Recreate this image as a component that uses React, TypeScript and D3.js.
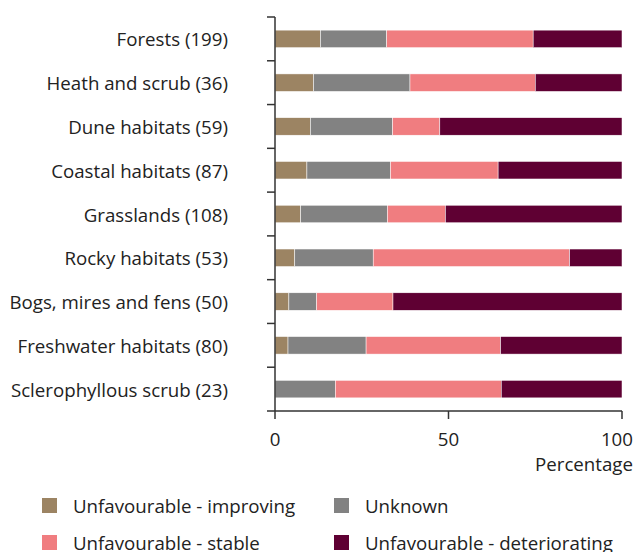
import React from "react";
import * as d3 from "d3";

const categories = [
  "Forests (199)",
  "Heath and scrub (36)",
  "Dune habitats (59)",
  "Coastal habitats (87)",
  "Grasslands (108)",
  "Rocky habitats (53)",
  "Bogs, mires and fens (50)",
  "Freshwater habitats (80)",
  "Sclerophyllous scrub (23)",
];

const seriesNames = [
  "Unfavourable - improving",
  "Unknown",
  "Unfavourable - stable",
  "Unfavourable - deteriorating",
];

// Percentages per category
const improving = [13.1, 11.1, 10.2, 9.2, 7.4, 5.7, 4.0, 3.75, 0];
const unknown = [19.1, 27.8, 23.7, 24.1, 25.0, 22.6, 8.0, 22.5, 17.4];
const stable = [42.2, 36.1, 13.6, 31.0, 16.7, 56.6, 22.0, 38.75, 47.8];
const deteriorating = [25.6, 25.0, 52.5, 35.7, 50.9, 15.1, 66.0, 35.0, 34.8];

const colors = ["#9c8463", "#828282", "#f07d80", "#5f0033"];

const xTicks = [0, 50, 100];

const W = 636;
const H = 552;
const FONT = "'Open Sans', sans-serif";
const FS = 18.7;

export default function App() {
  const x = d3.scaleLinear().domain([0, 100]).range([275, 622]);
  const y = d3.scaleBand().domain(categories).range([17, 411]).paddingInner(0.6).paddingOuter(0.3);
  const step = y.step();

  const rows = categories.map((c, i) => ({
    cat: c,
    vals: [improving[i], unknown[i], stable[i], deteriorating[i]],
  }));
  const stackData = rows.map((r) => {
    const o: any = { cat: r.cat };
    seriesNames.forEach((s, j) => (o[s] = r.vals[j]));
    return o;
  });
  const stacked = d3.stack().keys(seriesNames)(stackData as any);

  const bandTicks = d3.range(categories.length + 1).map((i) => 17 + i * step);

  return (
    <svg width={W} height={H} style={{ position: "absolute", left: 0, top: 0 }}>
      <rect width={W} height={H} fill="#fff" />
      {stacked.map((layer, j) => (
        <g key={j} fill={colors[j]}>
          {layer.map((d, i) => {
            const w = x(d[1]) - x(d[0]);
            if (w <= 0) return null;
            return (
              <rect
                key={i}
                x={x(d[0])}
                y={y(categories[i])!}
                width={w}
                height={y.bandwidth()}
                stroke="#ffffff"
                strokeWidth={0.5}
              />
            );
          })}
        </g>
      ))}
      {/* y axis */}
      <line x1={275} x2={275} y1={17} y2={411} stroke="#333" strokeWidth={1.5} />
      {bandTicks.map((t, i) => (
        <line key={i} x1={267} x2={275} y1={t} y2={t} stroke="#333" strokeWidth={1.5} />
      ))}
      {categories.map((c) => (
        <text
          key={c}
          x={228}
          y={y(c)! + y.bandwidth() / 2}
          textAnchor="end"
          dominantBaseline="central"
          fontFamily={FONT}
          fontSize={FS}
          fill="#222"
        >
          {c}
        </text>
      ))}
      {/* x axis */}
      <line x1={275} x2={622} y1={411} y2={411} stroke="#333" strokeWidth={1.5} />
      {xTicks.map((t, i) => (
        <g key={t}>
          <line x1={x(t)} x2={x(t)} y1={411} y2={419} stroke="#333" strokeWidth={1.5} />
          <text
            x={i === xTicks.length - 1 ? 633 : x(t)}
            y={446}
            textAnchor={i === xTicks.length - 1 ? "end" : "middle"}
            fontFamily={FONT}
            fontSize={FS}
            fill="#222"
          >
            {t}
          </text>
        </g>
      ))}
      <text x={633} y={471} textAnchor="end" fontFamily={FONT} fontSize={FS} fill="#222">
        Percentage
      </text>
      {/* legend */}
      {seriesNames.map((s, i) => {
        const col = i % 2;
        const row = Math.floor(i / 2);
        const lx = col === 0 ? 42 : 334;
        const ly = row === 0 ? 505 : 542;
        return (
          <g key={s}>
            <rect x={lx} y={ly - 7} width={15} height={15} fill={colors[i]} />
            <text
              x={lx + 31}
              y={ly}
              dominantBaseline="central"
              fontFamily={FONT}
              fontSize={FS}
              fill="#222"
            >
              {s}
            </text>
          </g>
        );
      })}
    </svg>
  );
}
